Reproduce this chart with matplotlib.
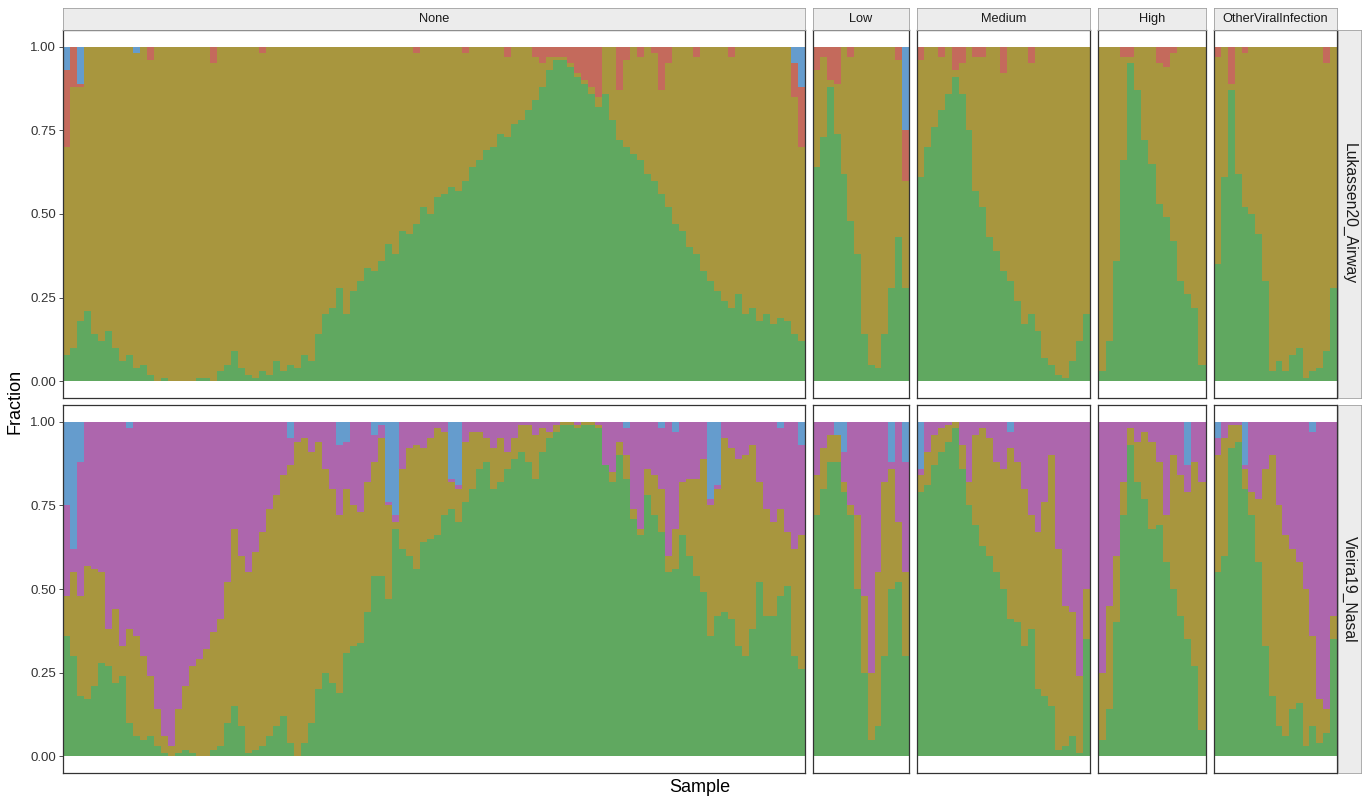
import numpy as np
import matplotlib.pyplot as plt

plt.rcParams['font.family'] = ['Liberation Sans', 'DejaVu Sans']

groups = ['None', 'Low', 'Medium', 'High', 'OtherViralInfection']
datasets = ['Lukassen20_Airway', 'Vieira19_Nasal']

# cumulative percent at the top of each stacked layer (layer 1, 2, 3; layer 4 fills to 100)
# --- Lukassen20_Airway ---
air_none_1 = [8, 10, 18, 21, 14, 12, 15, 10, 6, 8, 4, 5, 2, 0, 1, 0, 0, 0, 0, 1,
              1, 0, 3, 5, 9, 4, 2, 1, 3, 2, 6, 3, 5, 4, 8, 6, 14, 20, 22, 28,
              20, 27, 30, 34, 33, 36, 41, 38, 45, 44, 47, 52, 50, 55, 56, 58, 57, 60, 64, 66,
              69, 70, 74, 73, 77, 78, 81, 84, 88, 93, 96, 96, 94, 91, 89, 86, 82, 86, 78, 72,
              70, 68, 66, 62, 60, 56, 52, 47, 45, 40, 38, 33, 30, 27, 24, 22, 26, 20, 22, 18,
              20, 17, 19, 18, 14, 12]
air_none_2 = [70, 88, 88, 100, 100, 100, 100, 100, 100, 100, 100, 100, 96, 100, 100, 100, 100, 100, 100, 100,
              100, 95, 100, 100, 100, 100, 100, 100, 98, 100, 100, 100, 100, 100, 100, 100, 100, 100, 100, 100,
              100, 100, 100, 100, 100, 100, 100, 100, 100, 100, 98, 100, 100, 100, 100, 100, 100, 98, 100, 100,
              100, 100, 100, 97, 100, 100, 100, 97, 95, 97, 97, 97, 95, 92, 90, 88, 85, 100, 100, 87,
              96, 100, 97, 100, 98, 87, 95, 100, 100, 100, 97, 100, 100, 100, 100, 97, 100, 100, 100, 100,
              100, 100, 100, 100, 85, 70]
air_none_3 = [93, 100, 89, 100, 100, 100, 100, 100, 100, 100, 98, 100, 100, 100, 100, 100, 100, 100, 100, 100,
              100, 100, 100, 100, 100, 100, 100, 100, 100, 100, 100, 100, 100, 100, 100, 100, 100, 100, 100, 100,
              100, 100, 100, 100, 100, 100, 100, 100, 100, 100, 100, 100, 100, 100, 100, 100, 100, 100, 100, 100,
              100, 100, 100, 100, 100, 100, 100, 100, 100, 100, 100, 100, 100, 100, 100, 100, 100, 100, 100, 100,
              100, 100, 100, 100, 100, 100, 100, 100, 100, 100, 100, 100, 100, 100, 100, 100, 100, 100, 100, 100,
              100, 100, 100, 100, 95, 88]

air_low_1 = [64, 73, 88, 74, 62, 48, 38, 14, 5, 4, 14, 28, 43, 28]
air_low_2 = [93, 97, 90, 89, 100, 97, 100, 100, 100, 100, 100, 100, 96, 60]
air_low_3 = [100, 100, 100, 100, 100, 100, 100, 100, 100, 100, 100, 100, 100, 75]

air_med_1 = [61, 70, 76, 81, 86, 91, 86, 75, 57, 52, 43, 39, 33, 30, 24, 17, 20, 15, 7, 5,
             2, 1, 6, 12, 20]
air_med_2 = [96, 100, 100, 97, 100, 93, 95, 100, 97, 97, 100, 100, 92, 100, 100, 100, 95, 100, 100, 100,
             100, 100, 100, 100, 100]
air_med_3 = [100] * 25

air_high_1 = [3, 12, 36, 66, 95, 87, 72, 65, 53, 49, 42, 30, 26, 22, 5]
air_high_2 = [100, 100, 100, 97, 97, 100, 100, 100, 95, 94, 98, 100, 100, 100, 100]
air_high_3 = [100] * 15

air_other_1 = [35, 61, 87, 62, 52, 50, 44, 30, 3, 6, 3, 8, 10, 1, 3, 4, 9, 28]
air_other_2 = [97, 100, 89, 100, 98, 100, 100, 100, 100, 100, 100, 100, 100, 100, 100, 100, 95, 100]
air_other_3 = [100] * 18

# --- Vieira19_Nasal ---
nas_none_1 = [36, 30, 18, 17, 21, 28, 27, 22, 24, 10, 6, 5, 6, 3, 1, 0, 1, 2, 1, 0,
              0, 2, 3, 10, 15, 9, 1, 2, 3, 6, 9, 12, 4, 0, 4, 10, 20, 25, 22, 19,
              31, 33, 34, 43, 54, 54, 47, 68, 62, 60, 56, 64, 65, 66, 72, 74, 70, 76, 80, 86,
              88, 80, 82, 86, 89, 91, 88, 83, 91, 95, 97, 99, 99, 98, 99, 99, 98, 87, 82, 90,
              83, 71, 66, 78, 72, 67, 55, 56, 66, 60, 54, 49, 36, 42, 43, 41, 33, 30, 38, 52,
              42, 42, 48, 51, 30, 26]
nas_none_2 = [48, 55, 48, 57, 56, 55, 38, 44, 33, 38, 36, 30, 24, 14, 6, 3, 14, 21, 27, 29,
              32, 37, 41, 52, 68, 60, 55, 61, 67, 74, 78, 84, 87, 94, 95, 91, 94, 86, 80, 72,
              80, 75, 73, 82, 88, 95, 75, 70, 86, 92, 93, 92, 95, 98, 97, 82, 80, 94, 97, 97,
              95, 92, 95, 91, 95, 99, 99, 96, 98, 97, 99, 100, 100, 99, 100, 100, 99, 87, 85, 94,
              90, 74, 68, 86, 84, 80, 60, 68, 82, 83, 83, 89, 75, 80, 95, 92, 89, 90, 93, 82,
              74, 70, 74, 67, 62, 66]
nas_none_3 = [75, 62, 88, 100, 100, 100, 100, 100, 100, 98, 100, 100, 100, 100, 100, 100, 100, 100, 100, 100,
              100, 100, 100, 100, 100, 100, 100, 100, 100, 100, 100, 100, 95, 100, 100, 100, 100, 100, 100, 93,
              94, 100, 100, 100, 96, 99, 76, 72, 100, 100, 100, 100, 100, 100, 100, 83, 81, 100, 100, 100,
              100, 100, 100, 100, 100, 100, 100, 100, 100, 100, 100, 100, 100, 100, 100, 100, 100, 100, 100, 100,
              98, 100, 100, 100, 100, 98, 100, 97, 100, 100, 100, 100, 77, 81, 100, 100, 100, 100, 100, 100,
              100, 100, 98, 100, 100, 93]

nas_low_1 = [72, 80, 88, 88, 79, 72, 50, 25, 5, 9, 30, 50, 52, 30]
nas_low_2 = [84, 92, 96, 97, 82, 75, 72, 48, 25, 55, 82, 86, 70, 55]
nas_low_3 = [100, 100, 100, 96, 91, 100, 100, 100, 100, 100, 100, 88, 100, 88]

nas_med_1 = [79, 81, 87, 91, 94, 98, 86, 75, 69, 63, 60, 55, 50, 41, 40, 33, 38, 20, 18, 15,
             2, 3, 6, 1, 35]
nas_med_2 = [84, 91, 96, 98, 99, 100, 93, 82, 96, 98, 95, 88, 86, 92, 88, 80, 72, 67, 76, 90,
             62, 45, 43, 24, 50]
nas_med_3 = [86, 100, 100, 100, 100, 100, 100, 100, 100, 100, 100, 100, 100, 97, 100, 100, 100, 100, 100, 100,
             100, 100, 100, 100, 100]

nas_high_1 = [5, 14, 40, 72, 93, 82, 77, 68, 69, 58, 50, 42, 35, 27, 8]
nas_high_2 = [25, 45, 60, 82, 98, 94, 97, 94, 88, 72, 90, 84, 79, 88, 82]
nas_high_3 = [100, 100, 100, 100, 100, 100, 100, 100, 100, 100, 100, 100, 87, 100, 100]

nas_other_1 = [55, 60, 92, 94, 80, 72, 58, 33, 18, 9, 6, 14, 16, 3, 9, 4, 7, 35]
nas_other_2 = [90, 95, 99, 99, 86, 79, 77, 86, 90, 75, 66, 62, 58, 50, 36, 17, 14, 42]
nas_other_3 = [95, 100, 100, 100, 87, 100, 100, 100, 100, 100, 100, 100, 100, 100, 97, 100, 100, 100]

airway = [(air_none_1, air_none_2, air_none_3), (air_low_1, air_low_2, air_low_3),
          (air_med_1, air_med_2, air_med_3), (air_high_1, air_high_2, air_high_3),
          (air_other_1, air_other_2, air_other_3)]
nasal = [(nas_none_1, nas_none_2, nas_none_3), (nas_low_1, nas_low_2, nas_low_3),
         (nas_med_1, nas_med_2, nas_med_3), (nas_high_1, nas_high_2, nas_high_3),
         (nas_other_1, nas_other_2, nas_other_3)]

GREEN, OLIVE, RED, BLUE, PURPLE = '#60a860', '#a8963e', '#c46a5c', '#659ccd', '#ad66ad'
row_colors = [[GREEN, OLIVE, RED, BLUE], [GREEN, OLIVE, PURPLE, BLUE]]

W, H = 1363, 799
fig = plt.figure(figsize=(W / 100, H / 100), dpi=100)

# panel boxes in pixels
col_x = [(63, 805), (813, 909), (917, 1090), (1098, 1206), (1214, 1337)]
row_y = [(30, 398), (405, 773)]


def box(x0, y0, x1, y1):
    return [x0 / W, 1 - y1 / H, (x1 - x0) / W, (y1 - y0) / H]


for r, rows in enumerate([airway, nasal]):
    y0, y1 = row_y[r]
    for c, levels in enumerate(rows):
        x0, x1 = col_x[c]
        ax = fig.add_axes(box(x0, y0, x1, y1))
        lv = np.array(levels, dtype=float) / 100
        n = lv.shape[1]
        tops = np.vstack([lv, np.ones(n)])
        bottoms = np.vstack([np.zeros(n), lv])
        x = np.arange(n)
        for k in range(4):
            ax.bar(x, tops[k] - bottoms[k], bottom=bottoms[k], width=1.0,
                   color=row_colors[r][k], linewidth=0)
        ax.set_xlim(-0.55, n - 0.45)
        ax.set_ylim(-0.05, 1.05)
        ax.set_xticks([])
        for s in ax.spines.values():
            s.set_color('#333333')
            s.set_linewidth(0.9)
        if c == 0:
            ax.set_yticks([0, 0.25, 0.5, 0.75, 1.0])
            ax.set_yticklabels(['0.00', '0.25', '0.50', '0.75', '1.00'],
                               fontsize=9.5, color='#333333')
            ax.tick_params(axis='y', length=3, width=0.6, color='#333333', pad=2)
        else:
            ax.set_yticks([])

        # column strip on top
        if r == 0:
            sax = fig.add_axes(box(x0, 8, x1, 30))
            sax.set_facecolor('#ececec')
            sax.set_xticks([])
            sax.set_yticks([])
            for s in sax.spines.values():
                s.set_color('#a0a0a0')
                s.set_linewidth(0.6)
            sax.text(0.5, 0.5, groups[c], ha='center', va='center',
                     fontsize=9.2, color='#1a1a1a', transform=sax.transAxes)

    # row strip on the right
    rax = fig.add_axes(box(1338, y0, 1361, y1))
    rax.set_facecolor('#ececec')
    rax.set_xticks([])
    rax.set_yticks([])
    for s in rax.spines.values():
        s.set_color('#a0a0a0')
        s.set_linewidth(0.6)
    rax.text(0.5, 0.5, datasets[r], ha='center', va='center', rotation=-90,
             fontsize=11.3, color='#1a1a1a', transform=rax.transAxes)

fig.text(15 / W, 1 - 401 / H, 'Fraction', rotation=90, ha='center', va='center', fontsize=13)
fig.text(700 / W, 1 - 787 / H, 'Sample', ha='center', va='center', fontsize=13)

fig.savefig('out.png', dpi=100)
